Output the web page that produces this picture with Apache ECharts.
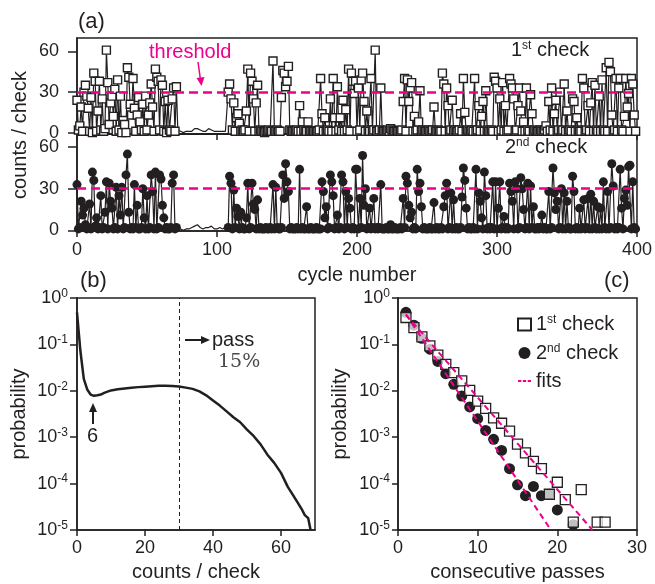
<!DOCTYPE html>
<html><head><meta charset="utf-8">
<script src="https://cdn.jsdelivr.net/npm/echarts@6/dist/echarts.min.js"></script>
<style>html,body{margin:0;padding:0;background:#fff}#c{width:655px;height:584px}</style>
</head><body><div id="c"></div>
<script>
// ---------- data ----------
const firstCheck = [
 24, 2, 5, 19, 1, 30, 35, 27, 18, 1,
 26, 0, 44, 38, 1, 16, 38, 2, 25, 1,
 3, 61, 37, 6, 22, 27, 12, 32, 1, 39,
 2, 27, 0, 9, 6, 0, 48, 41, 21, 13,
 40, 18, 1, 13, 26, 8, 2, 21, 1, 27,
 2, 13, 22, 36, 19, 1, 47, 41, 38, 2,
 39, 35, 1, 23, 0, 24, 2, 1, 25, 33,
 1, 34, 2, 1, 1, 1, 0, 1, 1, 1,
 1, 1, 1, 2, 3, 3, 3, 2, 2, 2,
 1, 1, 1, 2, 3, 3, 2, 1, 1, 1,
 1, 1, 1, 2, 1, 1, 1, 1, 30, 36,
 25, 2, 22, 1, 11, 14, 7, 1, 2, 1,
 2, 16, 47, 1, 44, 38, 25, 1, 22, 35,
 1, 2, 1, 1, 0, 1, 1, 2, 1, 1,
 53, 1, 1, 2, 1, 1, 26, 46, 44, 34,
 38, 49, 2, 1, 1, 1, 1, 2, 1, 20,
 1, 8, 2, 1, 1, 8, 1, 1, 1, 1,
 1, 1, 1, 2, 40, 14, 1, 11, 1, 2,
 1, 25, 1, 40, 11, 1, 34, 2, 11, 1,
 24, 1, 17, 2, 47, 1, 44, 38, 29, 38,
 1, 33, 2, 39, 44, 23, 1, 16, 2, 1,
 40, 1, 2, 61, 1, 1, 2, 33, 1, 1,
 1, 1, 2, 1, 3, 2, 1, 1, 1, 1,
 1, 1, 2, 23, 40, 1, 39, 23, 33, 37,
 1, 12, 1, 2, 8, 31, 1, 2, 1, 1,
 1, 2, 1, 1, 2, 19, 1, 1, 2, 1,
 1, 44, 36, 1, 33, 20, 1, 2, 24, 1,
 2, 1, 1, 2, 14, 1, 40, 15, 1, 2,
 1, 1, 2, 1, 40, 1, 2, 20, 1, 12,
 23, 1, 31, 2, 1, 1, 2, 1, 41, 38,
 33, 1, 25, 2, 37, 1, 20, 1, 2, 40,
 36, 33, 25, 1, 2, 20, 33, 16, 1, 8,
 1, 33, 2, 1, 28, 14, 1, 2, 1, 1,
 1, 2, 1, 1, 2, 5, 1, 23, 2, 33,
 1, 14, 24, 1, 2, 30, 1, 2, 36, 1,
 16, 1, 2, 1, 25, 23, 1, 11, 2, 1,
 1, 40, 33, 1, 2, 20, 1, 22, 37, 1,
 35, 2, 1, 27, 1, 39, 2, 1, 48, 1,
 52, 45, 13, 1, 2, 40, 1, 33, 40, 2,
 1, 12, 40, 19, 29, 1, 40, 36, 13, 1
];
const secondCheck = [
 33, 1, 2, 21, 11, 16, 4, 1, 2, 19,
 1, 42, 36, 3, 9, 1, 2, 25, 1, 2,
 13, 35, 1, 34, 21, 16, 1, 2, 31, 1,
 25, 11, 31, 1, 2, 40, 55, 13, 1, 2,
 1, 33, 2, 18, 1, 1, 2, 30, 9, 1,
 25, 1, 2, 40, 28, 1, 42, 1, 2, 40,
 37, 18, 9, 1, 2, 1, 1, 2, 34, 40,
 1, 2, 1, 1, 1, 1, 0, 1, 1, 1,
 1, 1, 2, 2, 3, 3, 4, 3, 2, 1,
 1, 1, 2, 2, 2, 1, 3, 2, 1, 1,
 1, 1, 2, 1, 1, 1, 2, 1, 2, 39,
 34, 1, 29, 2, 16, 10, 1, 13, 2, 1,
 1, 9, 34, 1, 2, 34, 19, 15, 1, 22,
 1, 2, 1, 1, 1, 2, 1, 1, 2, 1,
 33, 1, 31, 2, 1, 1, 2, 40, 23, 48,
 35, 28, 1, 2, 1, 1, 1, 2, 1, 44,
 1, 2, 1, 1, 17, 1, 1, 2, 1, 1,
 1, 2, 1, 1, 1, 35, 28, 9, 17, 1,
 2, 40, 35, 25, 1, 2, 11, 1, 2, 40,
 35, 1, 28, 2, 23, 16, 1, 2, 1, 44,
 44, 1, 23, 2, 54, 18, 30, 1, 2, 16,
 1, 2, 23, 1, 2, 1, 2, 33, 1, 1,
 1, 2, 1, 1, 4, 1, 1, 2, 1, 1,
 1, 2, 1, 23, 2, 39, 34, 18, 9, 13,
 1, 2, 1, 44, 28, 34, 17, 1, 2, 1,
 1, 1, 2, 1, 1, 20, 1, 2, 1, 1,
 2, 1, 17, 25, 34, 1, 2, 27, 1, 22,
 1, 2, 1, 1, 2, 24, 45, 36, 16, 1,
 2, 1, 1, 2, 1, 44, 1, 27, 21, 9,
 1, 42, 25, 1, 2, 1, 2, 35, 1, 35,
 1, 16, 35, 1, 2, 10, 1, 2, 1, 34,
 28, 21, 1, 35, 30, 1, 2, 38, 30, 15,
 1, 2, 34, 1, 32, 2, 17, 1, 1, 2,
 1, 2, 11, 1, 2, 1, 1, 28, 1, 2,
 45, 27, 15, 21, 1, 2, 30, 1, 27, 1,
 21, 2, 1, 1, 39, 28, 1, 2, 1, 16,
 1, 2, 22, 1, 2, 23, 1, 26, 1, 21,
 2, 1, 17, 1, 16, 1, 35, 2, 1, 28,
 1, 2, 48, 32, 1, 2, 1, 2, 44, 16,
 1, 23, 29, 18, 46, 47, 1, 35, 2, 1
];
const threshold = 30;
const cycleTicks = [0, 100, 200, 300, 400];
const countTicksA = [0, 30, 60];

const countBins = [0,1,2,3,4,5,6,7,8,9,10,12,14,16,18,20,22,24,26,28,30,32,34,36,38,40,42,44,46,48,50,52,54,56,58,60,62,64,66,67,68,68.7];
const countProb = [0.49,0.072,0.018,0.0107,0.0083,0.0078,0.0080,0.0083,0.0090,0.0096,0.0102,0.0108,0.0112,0.0116,0.0120,0.0123,0.0126,0.0128,0.0129,0.0127,0.0124,0.0117,0.0110,0.0097,0.0080,0.0062,0.0048,0.0036,0.0027,0.0021,0.00145,0.00105,0.00070,0.00042,0.00028,0.00017,0.000085,0.000050,0.000029,0.000021,0.000018,0.00001];
const countTicksB = [0, 20, 40, 60];

const passLen1 = [1,2,3,4,5,6,7,8,9,10,11,12,13,14,15,16,17,18,19,20,21,22,23,25,26];
const passProb1 = [0.38,0.23,0.145,0.093,0.059,0.037,0.0246,0.0163,0.0102,0.006,0.0042,0.0026,0.002,0.00135,0.00071,0.00046,0.0003,0.00021,5.9e-5,1.07e-4,4.5e-5,1.48e-5,7.4e-5,1.48e-5,1.48e-5];
const passLen2 = [1,2,3,4,5,6,7,8,9,10,11,12,13,14,15,16,17,18,19,20,22];
const passProb2 = [0.49,0.26,0.135,0.079,0.043,0.0234,0.0138,0.0077,0.0045,0.0025,0.0014,0.0009,0.00052,0.00021,9.4e-5,5.5e-5,8.7e-5,5.5e-5,5.9e-5,2.7e-5,1.3e-5];
const fit1Len = [1, 24.4];
const fit1Prob = [0.44, 1e-5];
const fit2Len = [1, 19.2];
const fit2Prob = [0.44, 1e-5];
const passTicks = [0, 10, 20, 30];

// ---------- style ----------
const ink = '#231f20';
const pink = '#ec008c';
const FF = 'Liberation Sans, Arial, sans-serif';
const idleFrom = 72, idleTo = 107; // cycles drawn without markers

const zip = (a, b) => a.map((v, i) => [v, b[i]]);
const supRich = {
  m: { fontSize: 18, fontFamily: FF, color: ink },
  s: { fontSize: 12, fontFamily: FF, color: ink, padding: [0, 0, 9, 0] }
};
const logFmt = v => '{m|10}{s|' + Math.round(Math.log10(v)) + '}';

function valAxis(grid, min, max, ticks, extra) {
  return Object.assign({
    type: 'value', gridIndex: grid, min: min, max: max,
    axisLine: { show: true, onZero: false, lineStyle: { color: ink, width: 1.5 } },
    axisTick: { show: true, customValues: ticks, length: 6, lineStyle: { color: ink, width: 1.5 } },
    axisLabel: { show: true, customValues: ticks, fontSize: 18, color: ink, fontFamily: FF, margin: 9 },
    splitLine: { show: false }
  }, extra || {});
}
function logAxis(grid, tickLen, margin) {
  return {
    type: 'log', logBase: 10, gridIndex: grid, min: 1e-5, max: 1, position: 'left',
    axisLine: { show: true, onZero: false, lineStyle: { color: ink, width: 1.5 } },
    axisTick: { show: true, length: tickLen, lineStyle: { color: ink, width: 1.5 } },
    axisLabel: { formatter: logFmt, rich: supRich, margin: margin },
    splitLine: { show: false },
    name: 'probability', nameLocation: 'middle', nameGap: 48,
    nameTextStyle: { fontSize: 20, color: ink, fontFamily: FF }
  };
}
const gridBox = { show: true, borderColor: ink, borderWidth: 1.5, backgroundColor: 'transparent' };
const supText = (t, x, y) => ({
  type: 'text', left: x, top: y,
  style: { text: t, fontSize: 20, fill: ink, fontFamily: FF,
    rich: { s: { fontSize: 12, fontFamily: FF, fill: ink, padding: [0, 0, 9, 0] } } }
});

const option = {
  animation: false,
  backgroundColor: '#fff',
  textStyle: { fontFamily: FF, color: ink },
  grid: [
    Object.assign({ left: 77, top: 38, width: 560, height: 96 }, gridBox),
    Object.assign({ left: 77, top: 134, width: 560, height: 97 }, gridBox),
    Object.assign({ left: 77, top: 298, width: 238, height: 232 }, gridBox),
    Object.assign({ left: 398, top: 298, width: 239, height: 232 }, gridBox)
  ],
  xAxis: [
    valAxis(0, 0, 400, cycleTicks, { axisTick: { show: false }, axisLabel: { show: false } }),
    valAxis(1, 0, 400, cycleTicks, {
      name: 'cycle number', nameLocation: 'middle', nameGap: 34,
      nameTextStyle: { fontSize: 20, color: ink, fontFamily: FF },
      axisLabel: { customValues: cycleTicks, fontSize: 18, color: ink, fontFamily: FF, margin: 10 }
    }),
    valAxis(1, 0, 400, cycleTicks, {
      position: 'top',
      axisTick: { show: true, inside: true, customValues: cycleTicks, length: 6, lineStyle: { color: ink, width: 1.5 } },
      axisLabel: { show: false }
    }),
    valAxis(2, 0, 70, countTicksB, {
      name: 'counts / check', nameLocation: 'middle', nameGap: 32,
      nameTextStyle: { fontSize: 20, color: ink, fontFamily: FF }
    }),
    valAxis(3, 0, 30, passTicks, {
      name: 'consecutive passes', nameLocation: 'middle', nameGap: 32,
      nameTextStyle: { fontSize: 20, color: ink, fontFamily: FF }
    })
  ],
  yAxis: [
    valAxis(0, -1, 70, countTicksA, {
      axisTick: { show: true, customValues: countTicksA, length: 9, lineStyle: { color: ink, width: 1.5 } },
      axisLabel: { customValues: countTicksA, fontSize: 18, color: ink, fontFamily: FF, margin: 18 }
    }),
    valAxis(1, -0.5, 69.5, countTicksA, {
      axisTick: { show: true, customValues: countTicksA, length: 9, lineStyle: { color: ink, width: 1.5 } },
      axisLabel: { customValues: countTicksA, fontSize: 18, color: ink, fontFamily: FF, margin: 18 }
    }),
    logAxis(2, 7, 9),
    logAxis(3, 6, 8)
  ],
  legend: {
    data: ['1st check', '2nd check', {
      name: 'fits', icon: 'path://M0,0h4.5v2.4h-4.5z M6.5,0h4.5v2.4h-4.5z M13,0h4.5v2.4h-4.5z',
      itemStyle: { color: pink }
    }],
    orient: 'vertical', left: 512, top: 309,
    itemWidth: 13, itemHeight: 12, itemGap: 8,
    textStyle: {
      fontSize: 20, color: ink, fontFamily: FF,
      rich: { s: { fontSize: 12, fontFamily: FF, color: ink, padding: [0, 0, 9, 0] } }
    },
    formatter: n => n === 'fits' ? 'fits' : n.slice(0, 1) + '{s|' + n.slice(1, 3) + '}' + n.slice(3)
  },
  series: [
    {
      name: 'cycles 1st', type: 'line', xAxisIndex: 0, yAxisIndex: 0,
      data: firstCheck.map((v, i) => [i, v]),
      showAllSymbol: true,
      symbol: (val, p) => (p.dataIndex >= idleFrom && p.dataIndex <= idleTo) ? 'none' : 'rect',
      symbolSize: 8,
      itemStyle: { color: '#fff', borderColor: ink, borderWidth: 1.4 },
      lineStyle: { color: ink, width: 1.2 },
      markLine: {
        silent: true, symbol: 'none', label: { show: false },
        lineStyle: { color: pink, type: [9, 5], width: 2.5 },
        data: [{ yAxis: threshold }]
      }
    },
    {
      name: 'cycles 2nd', type: 'line', xAxisIndex: 1, yAxisIndex: 1,
      data: secondCheck.map((v, i) => [i, v]),
      showAllSymbol: true,
      symbol: (val, p) => (p.dataIndex >= idleFrom && p.dataIndex <= idleTo) ? 'none' : 'circle',
      symbolSize: 9,
      itemStyle: { color: ink },
      lineStyle: { color: ink, width: 1.2 },
      markLine: {
        silent: true, symbol: 'none', label: { show: false },
        lineStyle: { color: pink, type: [9, 5], width: 2.5 },
        data: [{ yAxis: threshold }]
      }
    },
    {
      name: 'histogram', type: 'line', xAxisIndex: 3, yAxisIndex: 2,
      data: zip(countBins, countProb), showSymbol: false,
      lineStyle: { color: ink, width: 2.5 },
      markLine: {
        silent: true, symbol: 'none', label: { show: false },
        lineStyle: { color: ink, type: [4, 3], width: 1 },
        data: [{ xAxis: threshold }]
      }
    },
    {
      name: '2nd check', type: 'scatter', xAxisIndex: 4, yAxisIndex: 3,
      data: zip(passLen2, passProb2), symbol: 'circle', symbolSize: 11,
      itemStyle: { color: ink, opacity: 1 }
    },
    {
      name: '1st check', type: 'scatter', xAxisIndex: 4, yAxisIndex: 3,
      data: zip(passLen1, passProb1), symbol: 'rect', symbolSize: 10,
      itemStyle: { color: 'rgba(255,255,255,0.72)', borderColor: ink, borderWidth: 1.3, opacity: 1 }
    },
    {
      name: 'fits', type: 'line', xAxisIndex: 4, yAxisIndex: 3,
      data: zip(fit1Len, fit1Prob), showSymbol: false, symbol: 'none',
      itemStyle: { color: pink },
      lineStyle: { color: pink, width: 2, type: [6, 4] }
    },
    {
      name: 'fits', type: 'line', xAxisIndex: 4, yAxisIndex: 3,
      data: zip(fit2Len, fit2Prob), showSymbol: false, symbol: 'none',
      itemStyle: { color: pink },
      lineStyle: { color: pink, width: 2, type: [6, 4] }
    }
  ],
  graphic: [
    { type: 'text', left: 78, top: 11, style: { text: '(a)', fontSize: 22, fill: ink, fontFamily: FF } },
    { type: 'text', left: 80, top: 270, style: { text: '(b)', fontSize: 22, fill: ink, fontFamily: FF } },
    { type: 'text', left: 604, top: 270, style: { text: '(c)', fontSize: 22, fill: ink, fontFamily: FF } },
    { type: 'text', x: 20, y: 135, rotation: Math.PI / 2,
      style: { text: 'counts / check', fontSize: 20, fill: ink, fontFamily: FF, align: 'center', verticalAlign: 'middle' } },
    { type: 'text', left: 149, top: 42, style: { text: 'threshold', fontSize: 20, fill: pink, fontFamily: FF } },
    { type: 'line', shape: { x1: 198, y1: 62, x2: 200.5, y2: 80 }, style: { stroke: pink, lineWidth: 1.5 } },
    { type: 'polygon', shape: { points: [[196.5, 78], [204.5, 77], [201.5, 86]] }, style: { fill: pink } },
    supText('1{s|st} check', 511, 40),
    supText('2{s|nd} check', 505, 137),
    { type: 'line', shape: { x1: 185, y1: 340, x2: 203, y2: 340 }, style: { stroke: ink, lineWidth: 2 } },
    { type: 'polygon', shape: { points: [[201, 336], [210, 340], [201, 344]] }, style: { fill: ink } },
    { type: 'text', left: 212, top: 330, style: { text: 'pass', fontSize: 20, fill: ink, fontFamily: FF } },
    { type: 'text', left: 218, top: 353, style: { text: '15%', fontSize: 19, fill: '#4a4a4a', fontFamily: '"DejaVu Serif", "Liberation Serif", serif' } },
    { type: 'line', shape: { x1: 93, y1: 424, x2: 93, y2: 410 }, style: { stroke: ink, lineWidth: 2 } },
    { type: 'polygon', shape: { points: [[89, 412], [93, 403], [97, 412]] }, style: { fill: ink } },
    { type: 'text', left: 87, top: 426, style: { text: '6', fontSize: 20, fill: ink, fontFamily: FF } }
  ]
};
const chart = echarts.init(document.getElementById('c'), null, { renderer: 'canvas' });
chart.setOption(option);
</script>
</body></html>
